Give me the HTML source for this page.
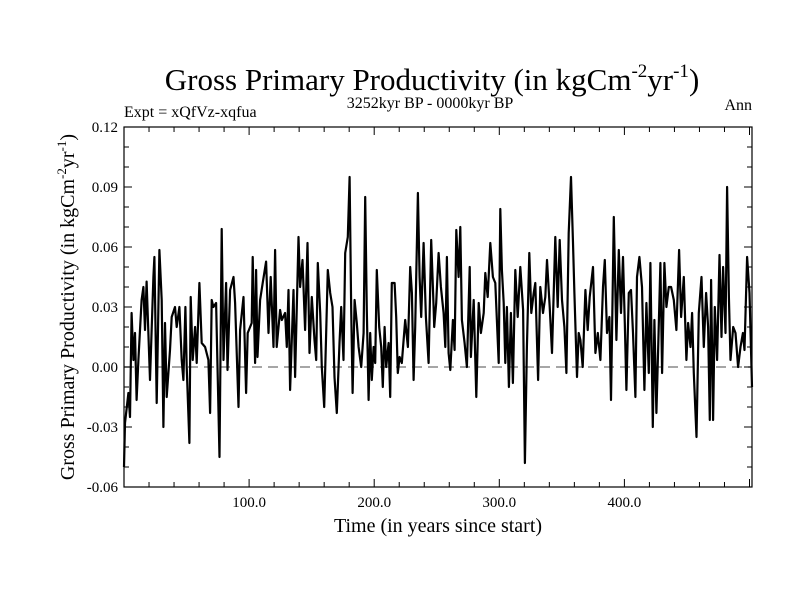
<!DOCTYPE html>
<html><head><meta charset="utf-8"><style>
html,body{margin:0;padding:0;background:#fff;}
svg{display:block;font-family:"Liberation Serif",serif;}
</style></head><body>
<svg id="chart" width="800" height="600" viewBox="0 0 800 600">
<text x="432" y="90" text-anchor="middle" font-size="31">Gross Primary Productivity (in kgCm<tspan font-size="19" dy="-13">-2</tspan><tspan dy="13">yr</tspan><tspan font-size="19" dy="-13">-1</tspan><tspan dy="13">)</tspan></text>
<text x="430" y="108" text-anchor="middle" font-size="16">3252kyr BP - 0000kyr BP</text>
<text x="124" y="117" font-size="16">Expt = xQfVz-xqfua</text>
<text x="752" y="110" text-anchor="end" font-size="16">Ann</text>
<text transform="translate(74,307) rotate(-90)" text-anchor="middle" font-size="20">Gross Primary Productivity (in kgCm<tspan font-size="13" dy="-8">-2</tspan><tspan dy="8">yr</tspan><tspan font-size="13" dy="-8">-1</tspan><tspan dy="8">)</tspan></text>
<text x="438" y="532" text-anchor="middle" font-size="20">Time (in years since start)</text>
<g id="axes"></g>
</svg>
<script>
const years=[0,0.8,3.5,4.8,6.1,7.5,8.8,10.1,11.5,14.1,15.5,16.8,18.1,20.8,23.5,24.3,26.1,28.3,30.1,31.5,32.8,34.1,36.8,38.1,40.8,42.1,44.3,46.1,47.5,49.1,50.1,52.3,53.3,54.9,56.8,58.1,60.3,62.1,64.8,67.5,68.8,70.1,71.5,73.6,76.3,78.1,79.5,81.6,82.7,84.8,87.5,88.8,91.5,92.8,95.5,97.6,98.9,102.1,102.9,104.8,105.6,106.7,108.8,110.9,113.6,115.5,117.3,119.5,120.8,122.1,124.8,126.1,128.8,130.1,131.5,132.8,135.5,136.8,139.5,140.8,142.7,144.8,146.7,148.3,150.1,152.3,153.6,154.9,156.8,158.1,160,161.3,162.9,164.8,166.7,168.3,170.1,172.3,173.6,175.5,176.8,178.9,180.3,181.6,182.7,184.3,186.1,187.5,189.6,191.5,192.8,194.1,195.5,196.8,198.1,199.5,200.8,202.1,204,205.6,206.9,208.3,209.6,211.5,212.8,214.1,216.3,217.6,218.9,220.3,222.1,224.8,226.9,228.8,230.1,231.5,232.8,234.1,234.9,236.3,237.6,239.5,241.3,243.5,245.6,247.5,248,249.6,251.5,253.3,255.5,256.8,258.1,259.5,260.8,262.9,264.3,265.6,267.5,268.8,270.1,272.3,274.1,276.3,277.3,279.5,281.6,283.5,285.3,287.5,288.8,290.7,292.8,294.9,296.8,299.5,300.8,302.1,303.5,304.8,306.1,307.7,309.3,310.9,312.8,314.7,316.8,319,320.5,322.1,324,325.6,327.5,328.8,331,332.8,334.9,336.8,338.1,340.3,342.1,344.8,346.7,348.3,350.1,352,353.6,355.5,357.3,358.9,360,362.1,363.5,364.8,366.7,368.8,370.7,372.3,374.9,376.8,378.7,380.8,382.9,384.3,386.1,388,389.3,391.5,393.6,395.5,397.3,398.9,400.3,401.6,403.5,405.3,406.9,408.8,410.1,412,414.1,416,417.6,419.5,420.8,422.7,424,425.6,427,428.8,430.1,432,433.6,435.5,437.3,439.5,441.6,443.7,445.3,447.5,449.6,450.9,452.8,454.1,455.5,457.6,459.5,461.6,463.5,465.3,466.9,468.3,469.3,470.9,472.3,474.1,476,477.6,478.9,480.8,482.1,483.5,484.8,487,488.8,490.9,492.8,494.7,496,498.1,500,502];
const gpp=[-0.05,-0.028,-0.013,-0.025,0.027,0.0035,0.017,-0.0165,0.0035,0.0335,0.040,0.0185,0.0427,-0.0065,0.045,0.055,-0.018,0.0585,0.0335,-0.030,0.022,-0.015,0.0085,0.025,0.030,0.020,0.030,0.0035,-0.0065,0.030,0.0,-0.038,0.035,0.0035,0.020,0.002,0.042,0.012,0.010,0.0035,-0.023,0.0335,0.030,0.032,-0.045,0.069,0.0035,0.042,-0.0015,0.0385,0.045,0.032,-0.020,0.0185,0.035,-0.013,0.017,0.022,0.055,0.002,0.0485,0.005,0.0335,0.042,0.0527,0.017,0.045,0.010,0.0585,0.010,0.0285,0.0235,0.027,0.010,0.0385,-0.0115,0.0385,-0.005,0.065,0.040,0.0535,0.0185,0.062,0.007,0.035,0.0135,0.0035,0.052,0.027,0.0,-0.020,0.010,0.0485,0.037,0.030,-0.005,-0.023,0.012,0.030,0.0035,0.057,0.065,0.095,0.0285,-0.013,0.0335,0.022,0.010,0.0,0.017,0.085,0.0285,-0.0165,0.017,-0.0065,0.010,0.002,0.0485,0.020,0.010,-0.010,0.020,0.0,0.012,-0.015,0.042,0.042,0.025,-0.003,0.005,0.002,0.0235,0.010,0.050,0.037,-0.0065,0.020,0.062,0.087,0.045,0.025,0.062,0.025,0.002,0.0635,0.030,0.020,0.032,0.057,0.040,0.027,0.010,0.055,0.007,-0.0015,0.0235,0.0085,0.0685,0.045,0.070,0.0235,0.012,0.0,0.050,0.005,0.0335,-0.015,0.032,0.017,0.027,0.047,0.035,0.062,0.045,0.042,0.002,0.079,0.0485,0.032,0.002,0.030,-0.010,0.027,-0.008,0.0485,0.025,0.050,0.0285,-0.048,0.010,0.057,0.027,0.037,0.042,-0.0065,0.040,0.027,0.035,0.0535,0.030,0.007,0.065,0.030,0.0635,0.0335,0.020,-0.003,0.067,0.095,0.062,0.037,-0.005,0.017,0.0135,0.0,0.0385,0.0185,0.035,0.050,0.007,0.017,0.0035,0.040,0.0535,0.017,0.025,-0.0165,0.075,0.0135,0.0585,0.027,0.055,0.022,-0.0115,0.037,0.0385,0.017,-0.015,0.045,0.055,0.040,-0.0115,0.032,-0.003,0.052,-0.030,0.0235,-0.023,0.010,0.052,-0.003,0.052,0.030,0.040,0.040,0.0335,0.0185,0.0585,0.025,0.045,0.0035,0.022,0.010,0.027,-0.003,-0.035,0.027,0.045,0.010,0.037,0.020,-0.0265,0.0435,-0.0265,0.030,0.0035,0.056,0.015,0.050,0.017,0.090,0.035,0.0035,0.020,0.017,0.0,0.010,0.017,0.0085,0.055,0.037,-0.010];
const yTickVals=[0.12,0.09,0.06,0.03,0.0,-0.03,-0.06];
const yTickLabels=["0.12","0.09","0.06","0.03","0.00","-0.03","-0.06"];
const xTickVals=[100,200,300,400];
const xTickLabels=["100.0","200.0","300.0","400.0"];

const L=124,R=752,T=127,B=487,X0=0,X1=502,Y0=-0.06,Y1=0.12;
const sx=v=>L+(v-X0)/(X1-X0)*(R-L);
const sy=v=>B-(v-Y0)/(Y1-Y0)*(B-T);
const NS="http://www.w3.org/2000/svg";
const g=document.getElementById('axes');
function mk(tag,attrs){const e=document.createElementNS(NS,tag);for(const k in attrs)e.setAttribute(k,attrs[k]);g.appendChild(e);return e;}

const zl=mk('line',{x1:L,x2:R,y1:sy(0),y2:sy(0),stroke:'#888','stroke-width':1.5,'stroke-dasharray':'10,6'});



let d='';
for(let i=0;i<years.length;i++){d+=(i?'L':'M')+sx(years[i]).toFixed(1)+' '+sy(gpp[i]).toFixed(1);}
const ln=mk('path',{d:d,fill:'none',stroke:'#000','stroke-width':2.2,'stroke-linejoin':'round'});



const fr=mk('rect',{x:L,y:T,width:R-L,height:B-T,fill:'none',stroke:'#000','stroke-width':1.2});



for(let v=-0.06;v<=0.1201;v+=0.01){
  const y=sy(v);const major=Math.abs(Math.round(v*100)%3)===0;const len=major?8:5;
  mk('line',{x1:L,x2:L+len,y1:y,y2:y,stroke:'#000','stroke-width':1});
  mk('line',{x1:R,x2:R-len,y1:y,y2:y,stroke:'#000','stroke-width':1});
}
for(let v=20;v<X1;v+=20){
  const x=sx(v);const len=(v%100===0)?8:5;
  mk('line',{x1:x,x2:x,y1:B,y2:B-len,stroke:'#000','stroke-width':1});
  mk('line',{x1:x,x2:x,y1:T,y2:T+len,stroke:'#000','stroke-width':1});
}
yTickVals.forEach((v,i)=>{
  const t=mk('text',{x:L-6,y:sy(v)+5,'text-anchor':'end','font-size':15});
  t.textContent=yTickLabels[i];
  
  
});
xTickVals.forEach((v,i)=>{
  const t=mk('text',{x:sx(v),y:B+20,'text-anchor':'middle','font-size':15});
  t.textContent=xTickLabels[i];
  
  
});
</script>
</body></html>
